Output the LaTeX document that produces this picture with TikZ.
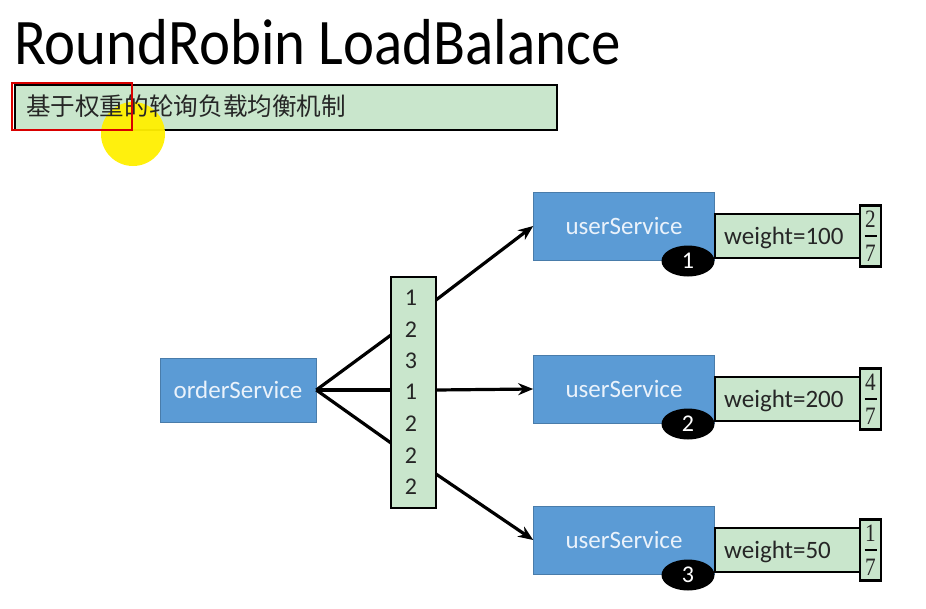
\documentclass[tikz,border=0pt]{standalone}
\usepackage{fontspec}
\setmainfont{Carlito}
\newfontfamily\cjk{Noto Sans CJK SC}
\newfontfamily\fracfont{Liberation Serif}
\usetikzlibrary{arrows.meta,positioning,calc,shapes.geometric}
\definecolor{svcblue}{HTML}{5B9BD5}
\definecolor{lightgreen}{HTML}{C9E6CC}
\definecolor{hlyellow}{HTML}{FFF000}
\definecolor{svctext}{HTML}{EAF2FB}
\tikzset{
  svc/.style={draw=svcblue!80!black, line width=0.6pt, fill=svcblue, text=svctext, font=\fontsize{25}{28}\selectfont, inner sep=0pt},
  wbox/.style={draw=black, line width=2.4pt, fill=lightgreen, inner sep=0pt},
  wtxt/.style={font=\fontsize{25}{28}\selectfont, text=black!85, inner sep=0pt, anchor=west},
  fbox/.style={draw=black, line width=2.4pt, fill=lightgreen, inner sep=0pt},
  fractxt/.style={font=\fracfont\fontsize{25}{26}\selectfont, inner sep=0pt, text=black!85, xscale=0.85},
  badge/.style={ellipse, fill=black, text=white, font=\fontsize{24}{26}\selectfont, inner sep=0pt, minimum width=53pt, minimum height=31pt},
  conn/.style={line width=3.2pt, draw=black, -{Stealth[length=15pt,width=12pt]}},
  plainconn/.style={line width=3.2pt, draw=black},
  numtxt/.style={font=\fontsize{24}{26}\selectfont, text=black!85, inner sep=0pt},
}
\begin{document}
\begin{tikzpicture}[x=1pt,y=-1pt]
\useasboundingbox[fill=white] (0,0) rectangle (926,608);
% title
\node[anchor=base west, inner sep=0pt, font=\fontsize{65}{70}\selectfont, xscale=0.905] (title) at (14,64) {RoundRobin LoadBalance};
% subtitle
\node[draw=black, line width=2.4pt, fill=lightgreen, minimum width=542pt, minimum height=45pt, anchor=north west, inner sep=0pt] (sub) at (14,84) {};
\fill[hlyellow, opacity=0.95] (133,134) circle (32pt);
\node[anchor=west, inner sep=0pt, font=\cjk\fontsize{24.6}{26}\selectfont, text=black!85] (subtxt) at (26,106) {基于权重的轮询负载均衡机制};
\node[draw=red!85!black, line width=2.2pt, minimum width=120pt, minimum height=47pt, anchor=north west, inner sep=0pt] (redbox) at (11,82) {};
% order service
\node[svc, minimum width=156pt, minimum height=64pt] (order) at (238,390) {orderService};
% number box
\node[wbox, minimum width=45pt, minimum height=231pt] (nums) at (413.5,392.5) {};
\foreach \n/\y [count=\k] in {1/298,2/330,3/361,1/392,2/424,2/456,2/487}
  \node[numtxt] (num\k) at (411,\y) {\n};
% user services
\foreach \i/\cy/\w/\a/\b in {1/226/100/2/7, 2/389/200/4/7, 3/540/50/1/7}{
  \node[svc, minimum width=181pt, minimum height=68pt] (us\i) at (624,\cy) {userService};
  \node[wbox, minimum width=147pt, minimum height=44pt, anchor=west] (wb\i) at (714,\cy+10) {};
  \node[wtxt] (wt\i) at (724,\cy+12) {weight=\w};
  \node[fbox, minimum width=21pt, minimum height=61pt] (fb\i) at (870.5,\cy+10) {};
  \node[fractxt] (fa\i) at (870.5,\cy-7) {\a};
  \node[fractxt] (fc\i) at (870.5,\cy+27) {\b};
  \draw[line width=1.3pt] ($(fb\i.center)+(-6,0)$) -- ($(fb\i.center)+(6,0)$);
  \node[badge] (bd\i) at (688,\cy+35) {\i};
}
% connectors
\coordinate (n2in) at (391,335);
\coordinate (n6in) at (391,443);
\coordinate (n4in) at (391,390);
\coordinate (n1out) at (436,300);
\coordinate (n4out) at (436,390);
\coordinate (n7out) at (436,474);
\draw[plainconn] (order.east) -- (n2in);
\draw[plainconn] (order.east) -- (n4in);
\draw[plainconn] (order.east) -- (n6in);
\draw[conn] (n1out) -- (us1.west);
\draw[conn] (n4out) -- (us2.west);
\draw[conn] (n7out) -- (us3.west);
\end{tikzpicture}
\end{document}
